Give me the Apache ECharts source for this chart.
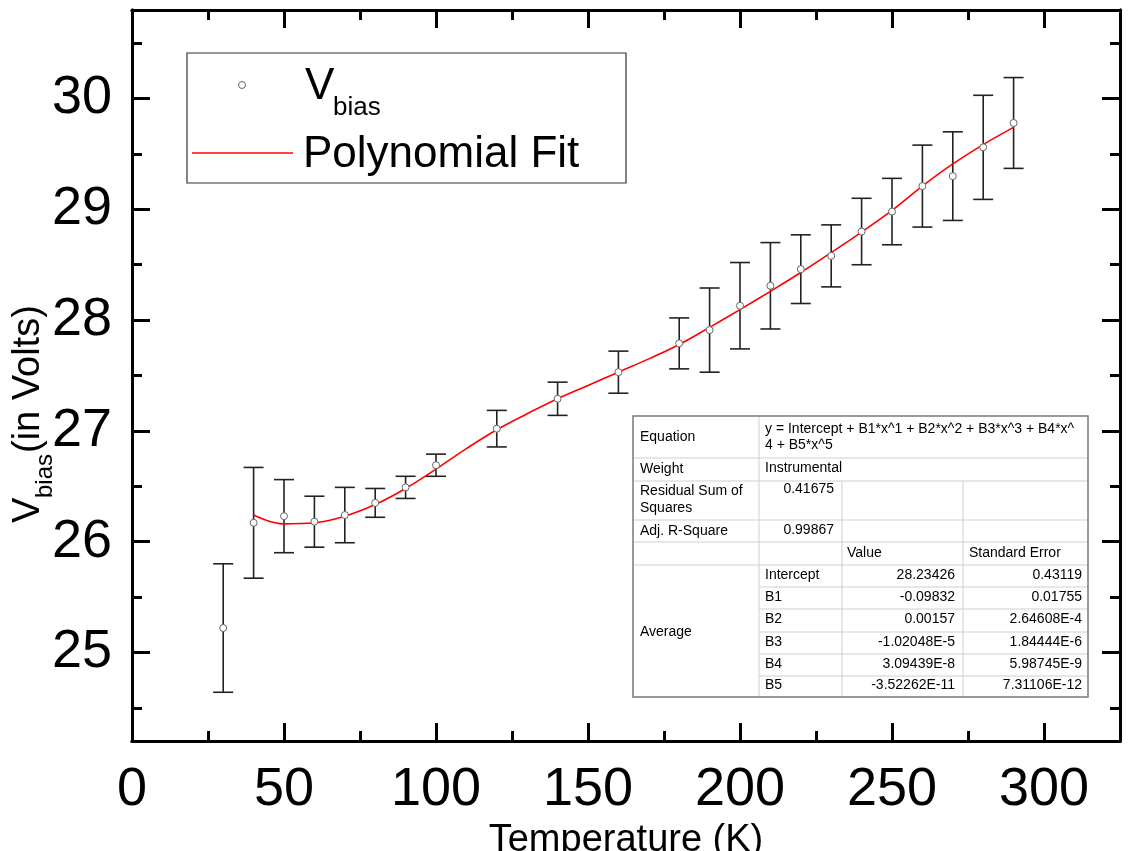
<!DOCTYPE html>
<html>
<head>
<meta charset="utf-8">
<script src="https://cdn.jsdelivr.net/npm/echarts@6/dist/echarts.min.js"></script>
<style>
html,body{margin:0;padding:0;background:#fff;}
#chart{width:1128px;height:851px;}
</style>
</head>
<body>
<div id="chart"></div>
<script>
// ---- data ----
const temps  = [30, 40, 50, 60, 70, 80, 90, 100, 120, 140, 160, 180, 190, 200, 210, 220, 230, 240, 250, 260, 270, 280, 290];
const vbias  = [25.22, 26.17, 26.23, 26.18, 26.24, 26.35, 26.49, 26.69, 27.02, 27.29, 27.53, 27.79, 27.91, 28.13, 28.31, 28.46, 28.58, 28.80, 28.98, 29.21, 29.30, 29.56, 29.78];
const vErr   = [0.58, 0.50, 0.33, 0.23, 0.25, 0.13, 0.10, 0.10, 0.165, 0.15, 0.19, 0.23, 0.38, 0.39, 0.39, 0.31, 0.28, 0.30, 0.30, 0.37, 0.40, 0.47, 0.41];
const fitT   = [40, 50, 60, 70, 80, 90, 100, 110, 120, 130, 140, 150, 160, 170, 180, 190, 200, 210, 220, 230, 240, 250, 260, 270, 280, 290];
const fitV   = [26.24, 26.16, 26.17, 26.23, 26.335, 26.48, 26.655, 26.84, 27.01, 27.155, 27.29, 27.41, 27.53, 27.65, 27.78, 27.935, 28.095, 28.26, 28.43, 28.61, 28.795, 28.99, 29.21, 29.41, 29.585, 29.74];
const xMajorTicks = [0, 50, 100, 150, 200, 250, 300];
const xMinorTicks = [25, 75, 125, 175, 225, 275];
const yMajorTicks = [25, 26, 27, 28, 29, 30];
const yMinorTicks = [24.5, 25.5, 26.5, 27.5, 28.5, 29.5, 30.5];
const xRange = [0, 325];
const yRange = [24.2, 30.8];
const legendNames = ['V', 'bias', 'Polynomial Fit'];
const xTitle = 'Temperature (K)';
const yTitleParts = ['V', 'bias', '(in Volts)'];
// fit summary table
const equationText = 'y = Intercept + B1*x^1 + B2*x^2 + B3*x^3 + B4*x^\n4 + B5*x^5';
const weightText = 'Instrumental';
const rssText = '0.41675';
const adjR2Text = '0.99867';
const paramNames = ['Intercept', 'B1', 'B2', 'B3', 'B4', 'B5'];
const paramValues = ['28.23426', '-0.09832', '0.00157', '-1.02048E-5', '3.09439E-8', '-3.52262E-11'];
const paramErrors = ['0.43119', '0.01755', '2.64608E-4', '1.84444E-6', '5.98745E-9', '7.31106E-12'];

const FONT = '"Liberation Sans", Arial, Helvetica, sans-serif';

const scatterData = temps.map((t, i) => [t, vbias[i]]);
const errData = temps.map((t, i) => [t, vbias[i], vErr[i]]);
const fitData = fitT.map((t, i) => [t, fitV[i]]);

function txt(x, y, text, size, opts) {
  opts = opts || {};
  const align = opts.align || 'left';
  const va = opts.va || 'middle';
  return {
    type: 'text', x: x, y: y, silent: true, z: 100,
    style: Object.assign({
      text: text, fontSize: size, fontFamily: FONT, fill: opts.fill || '#000',
      align: align, textAlign: align, verticalAlign: va, textVerticalAlign: va
    }, opts.lineHeight ? {lineHeight: opts.lineHeight} : {})
  };
}
function hline(x1, x2, y, color, w) {
  return {type: 'line', silent: true, z: 99, shape: {x1: x1, y1: y, x2: x2, y2: y}, style: {stroke: color, lineWidth: w}};
}
function vline(x, y1, y2, color, w) {
  return {type: 'line', silent: true, z: 99, shape: {x1: x, y1: y1, x2: x, y2: y2}, style: {stroke: color, lineWidth: w}};
}

// ---- table layout (positions only) ----
const tCols = [633, 759, 842, 963, 1088];
const tRows = [416, 458, 481, 520, 542, 565, 587, 609, 632, 654, 676, 697];
const inner = '#cfcfcf', outer = '#7a7a7a';
const table = [];
table.push({type: 'rect', silent: true, z: 98, shape: {x: tCols[0], y: tRows[0], width: tCols[4] - tCols[0], height: tRows[11] - tRows[0]}, style: {fill: '#fff', stroke: null}});
[1, 2, 3, 4, 5].forEach(r => table.push(hline(tCols[0], tCols[4], tRows[r], inner, 1)));
[6, 7, 8, 9, 10].forEach(r => table.push(hline(tCols[1], tCols[4], tRows[r], inner, 1)));
table.push(vline(tCols[1], tRows[0], tRows[11], inner, 1));
table.push(vline(tCols[2], tRows[2], tRows[11], inner, 1));
table.push(vline(tCols[3], tRows[2], tRows[11], inner, 1));
table.push({type: 'rect', silent: true, z: 99, shape: {x: tCols[0], y: tRows[0], width: tCols[4] - tCols[0], height: tRows[11] - tRows[0]}, style: {fill: null, stroke: outer, lineWidth: 1.5}});
const TS = 14;
table.push(txt(640, 437, 'Equation', TS));
table.push(txt(765, 437, equationText, TS, {lineHeight: 16}));
table.push(txt(640, 469, 'Weight', TS));
table.push(txt(765, 468, weightText, TS));
table.push(txt(640, 483, 'Residual Sum of\nSquares', TS, {va: 'top', lineHeight: 16.5}));
table.push(txt(834, 489, rssText, TS, {align: 'right'}));
table.push(txt(640, 531, 'Adj. R-Square', TS));
table.push(txt(834, 530, adjR2Text, TS, {align: 'right'}));
table.push(txt(847, 553, 'Value', TS));
table.push(txt(969, 553, 'Standard Error', TS));
table.push(txt(640, 632, 'Average', TS));
paramNames.forEach((n, i) => {
  const cy = (tRows[5 + i] + tRows[6 + i]) / 2 - 1;
  table.push(txt(765, cy, n, TS));
  table.push(txt(955, cy, paramValues[i], TS, {align: 'right'}));
  table.push(txt(1082, cy, paramErrors[i], TS, {align: 'right'}));
});

// ---- legend (drawn as graphic because of the subscript) ----
const legend = [
  {type: 'rect', silent: true, z: 98, shape: {x: 187, y: 53, width: 439, height: 130}, style: {fill: '#fff', stroke: '#333', lineWidth: 1.2}},
  {type: 'circle', silent: true, z: 99, shape: {cx: 242, cy: 85, r: 3.5}, style: {fill: '#fff', stroke: '#666', lineWidth: 1}},
  {type: 'line', silent: true, z: 99, shape: {x1: 192, y1: 153, x2: 293, y2: 153}, style: {stroke: '#ff0000', lineWidth: 1.5}},
  txt(305, 86.5, legendNames[0], 44),
  txt(333, 108, legendNames[1], 26),
  txt(303, 155, legendNames[2], 44)
];

// ---- y title with subscript ----
const yTitle = {
  type: 'group', x: 40, y: 523, rotation: Math.PI / 2, silent: true,
  children: [
    txt(0, -11.8, yTitleParts[0], 38),
    txt(25, 5.6, yTitleParts[1], 24),
    txt(70, -11.8, yTitleParts[2], 38)
  ]
};

const tickLine = {color: '#000', width: 3};
function xAxisDef(pos, ticks, len, withLabels) {
  return {
    type: 'value', position: pos, min: xRange[0], max: xRange[1],
    axisLine: {show: true, onZero: false, lineStyle: tickLine},
    axisTick: {show: true, inside: true, length: len, lineStyle: tickLine, customValues: ticks},
    axisLabel: withLabels ? {show: true, customValues: ticks, margin: 22, fontSize: 54, fontFamily: FONT, color: '#000'} : {show: false},
    splitLine: {show: false},
    name: withLabels ? xTitle : '',
    nameLocation: 'middle', nameGap: 73,
    nameTextStyle: {fontSize: 38, fontFamily: FONT, color: '#000'}
  };
}
function yAxisDef(pos, ticks, len, withLabels) {
  return {
    type: 'value', position: pos, min: yRange[0], max: yRange[1],
    axisLine: {show: true, onZero: false, lineStyle: tickLine},
    axisTick: {show: true, inside: true, length: len, lineStyle: tickLine, customValues: ticks},
    axisLabel: withLabels ? {show: true, customValues: ticks, margin: 20, fontSize: 54, fontFamily: FONT, color: '#000'} : {show: false},
    splitLine: {show: false}
  };
}

const chart = echarts.init(document.getElementById('chart'), null, {renderer: 'canvas'});
chart.setOption({
  backgroundColor: '#fff',
  animation: false,
  grid: {left: 132, right: 8, top: 10, bottom: 110, containLabel: false, outerBoundsMode: 'none'},
  xAxis: [
    xAxisDef('bottom', xMajorTicks, 18, true),
    xAxisDef('bottom', xMinorTicks, 10, false),
    xAxisDef('top', xMajorTicks, 18, false),
    xAxisDef('top', xMinorTicks, 10, false)
  ],
  yAxis: [
    yAxisDef('left', yMajorTicks, 18, true),
    yAxisDef('left', yMinorTicks, 10, false),
    yAxisDef('right', yMajorTicks, 18, false),
    yAxisDef('right', yMinorTicks, 10, false)
  ],
  series: [
    {
      type: 'custom', name: 'err', xAxisIndex: 0, yAxisIndex: 0, z: 2,
      data: errData,
      renderItem: function (params, api) {
        const x = api.value(0), y = api.value(1), e = api.value(2);
        const top = api.coord([x, y + e]);
        const bot = api.coord([x, y - e]);
        const hw = 10;
        const st = {stroke: '#222', lineWidth: 1.6};
        return {
          type: 'group',
          children: [
            {type: 'line', shape: {x1: top[0], y1: top[1], x2: bot[0], y2: bot[1]}, style: st},
            {type: 'line', shape: {x1: top[0] - hw, y1: top[1], x2: top[0] + hw, y2: top[1]}, style: st},
            {type: 'line', shape: {x1: bot[0] - hw, y1: bot[1], x2: bot[0] + hw, y2: bot[1]}, style: st}
          ]
        };
      }
    },
    {
      type: 'line', name: 'Polynomial Fit', xAxisIndex: 0, yAxisIndex: 0, z: 3,
      data: fitData, smooth: 0.4, showSymbol: false, symbol: 'none',
      lineStyle: {color: '#ff0000', width: 1.6}
    },
    {
      type: 'scatter', name: 'Vbias', xAxisIndex: 0, yAxisIndex: 0, z: 4,
      data: scatterData, symbol: 'circle', symbolSize: 7,
      itemStyle: {color: '#fff', borderColor: '#666', borderWidth: 1, opacity: 1}
    }
  ],
  graphic: [].concat(legend, table, [yTitle])
});
</script>
</body>
</html>
